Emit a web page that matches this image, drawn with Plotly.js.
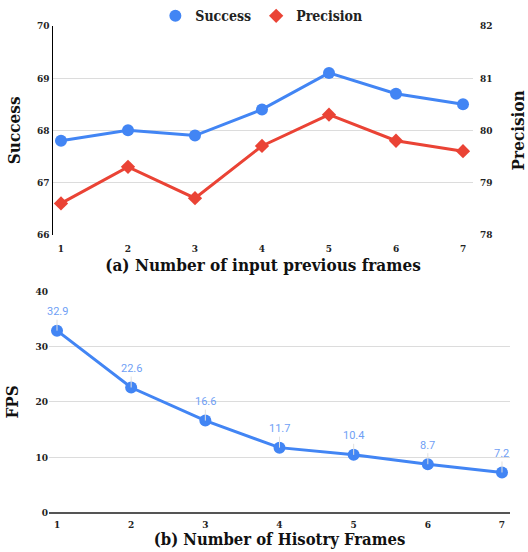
<!DOCTYPE html>
<html>
<head>
<meta charset="utf-8">
<script src="https://cdn.plot.ly/plotly-3.0.1.min.js"></script>
<style>html,body{margin:0;padding:0;background:#fff;}#chart{width:528px;height:552px;}</style>
</head>
<body>
<div id="chart"></div>
<script>
const frames = [1, 2, 3, 4, 5, 6, 7];
const successVals = [67.8, 68.0, 67.9, 68.4, 69.1, 68.7, 68.5];
const precisionVals = [78.6, 79.3, 78.7, 79.7, 80.3, 79.8, 79.6];
const historyFrames = [1, 2, 3, 4, 5, 6, 7];
const fpsVals = [32.9, 22.6, 16.6, 11.7, 10.4, 8.7, 7.2];
const successTicks = [66, 67, 68, 69, 70];
const precisionTicks = [78, 79, 80, 81, 82];
const fpsTicks = [0, 10, 20, 30, 40];

const BLUE = '#4285F4';
const RED = '#EA4335';
const SERIF = 'DejaVu Serif Condensed, DejaVu Serif, Georgia, serif';
const tickFont = {family: SERIF, size: 10, color: '#222', weight: 'bold'};
const titleFont = {family: SERIF, size: 17, color: '#111', weight: 'bold'};
const titleFontB = {family: SERIF, size: 16.5, color: '#111', weight: 'bold'};

const traces = [
  {x: frames, y: successVals, name: 'Success', type: 'scatter', mode: 'lines+markers', showlegend: false,
   xaxis: 'x', yaxis: 'y', line: {color: BLUE, width: 3}, marker: {color: BLUE, size: 12, symbol: 'circle'}},
  {x: frames, y: precisionVals, name: 'Precision', type: 'scatter', mode: 'lines+markers', showlegend: false,
   xaxis: 'x', yaxis: 'y2', line: {color: RED, width: 3}, marker: {color: RED, size: 11, symbol: 'diamond'}},
  {x: [null], y: [null], name: 'Success', type: 'scatter', mode: 'markers', xaxis: 'x', yaxis: 'y',
   marker: {color: BLUE, size: 12, symbol: 'circle'}},
  {x: [null], y: [null], name: 'Precision', type: 'scatter', mode: 'markers', xaxis: 'x', yaxis: 'y2',
   marker: {color: RED, size: 11, symbol: 'diamond'}},
  {x: historyFrames, y: fpsVals, name: 'FPS', type: 'scatter', mode: 'lines+markers', showlegend: false,
   xaxis: 'x3', yaxis: 'y3', line: {color: BLUE, width: 3}, marker: {color: BLUE, size: 12, symbol: 'circle'}}
];

const annotations = historyFrames.map((f, i) => ({
  x: f, y: fpsVals[i], xref: 'x3', yref: 'y3', text: fpsVals[i].toFixed(1),
  showarrow: true, arrowhead: 0, arrowwidth: 1, arrowcolor: '#e0e0e0', ax: 0, ay: -19,
  font: {family: 'Roboto, sans-serif', size: 11, color: '#6f9ff5'}
}));

const layout = {
  width: 528, height: 552,
  margin: {l: 0, r: 0, t: 0, b: 0},
  paper_bgcolor: '#fff', plot_bgcolor: '#fff',
  showlegend: true,
  legend: {orientation: 'h', x: 0.495, xanchor: 'center', y: 1.005, yanchor: 'top', itemwidth: 30,
           font: {family: SERIF, size: 14, color: '#222', weight: 'bold'}},
  xaxis: {domain: [0.1004, 0.8958], anchor: 'y', range: [0.881, 7.149], tickvals: frames, ticktext: frames.map(String),
          showgrid: false, zeroline: false, showline: false, ticks: '', tickfont: tickFont, ticklabelstandoff: 6,
          title: {text: '(a) Number of input previous frames', font: titleFont, standoff: 6}},
  yaxis: {domain: [0.5779, 0.9583], anchor: 'x', range: [66, 70], tickvals: successTicks, showgrid: true, gridcolor: '#dcdcdc', gridwidth: 1,
          zeroline: false, showline: true, linecolor: '#000', linewidth: 1.5, ticks: '', tickfont: tickFont,
          title: {text: 'Success', font: titleFont, standoff: 12}},
  yaxis2: {overlaying: 'y', side: 'right', anchor: 'x', range: [78, 82], tickvals: precisionTicks, showgrid: false, zeroline: false,
           showline: false, ticks: '', tickfont: tickFont, ticklabelstandoff: 6,
           title: {text: 'Precision', font: titleFont, standoff: 22}},
  xaxis3: {domain: [0.0928, 0.9659], anchor: 'y3', range: [0.892, 7.108], tickvals: historyFrames, ticktext: historyFrames.map(String),
           showgrid: false, zeroline: false, showline: true, linecolor: '#555', linewidth: 1.5, ticks: '', tickfont: tickFont, ticklabelstandoff: 2,
           title: {text: '(b) Number of Hisotry Frames', font: titleFontB, standoff: 5}},
  yaxis3: {domain: [0.0725, 0.4745], anchor: 'x3', range: [0, 40], tickvals: fpsTicks, showgrid: true, gridcolor: '#dcdcdc', gridwidth: 1,
           zeroline: false, showline: false, ticks: '', tickfont: tickFont,
           title: {text: 'FPS', font: titleFont, standoff: 12}},
  annotations: annotations
};

Plotly.newPlot('chart', traces, layout, {displayModeBar: false, staticPlot: true});
</script>
</body>
</html>
